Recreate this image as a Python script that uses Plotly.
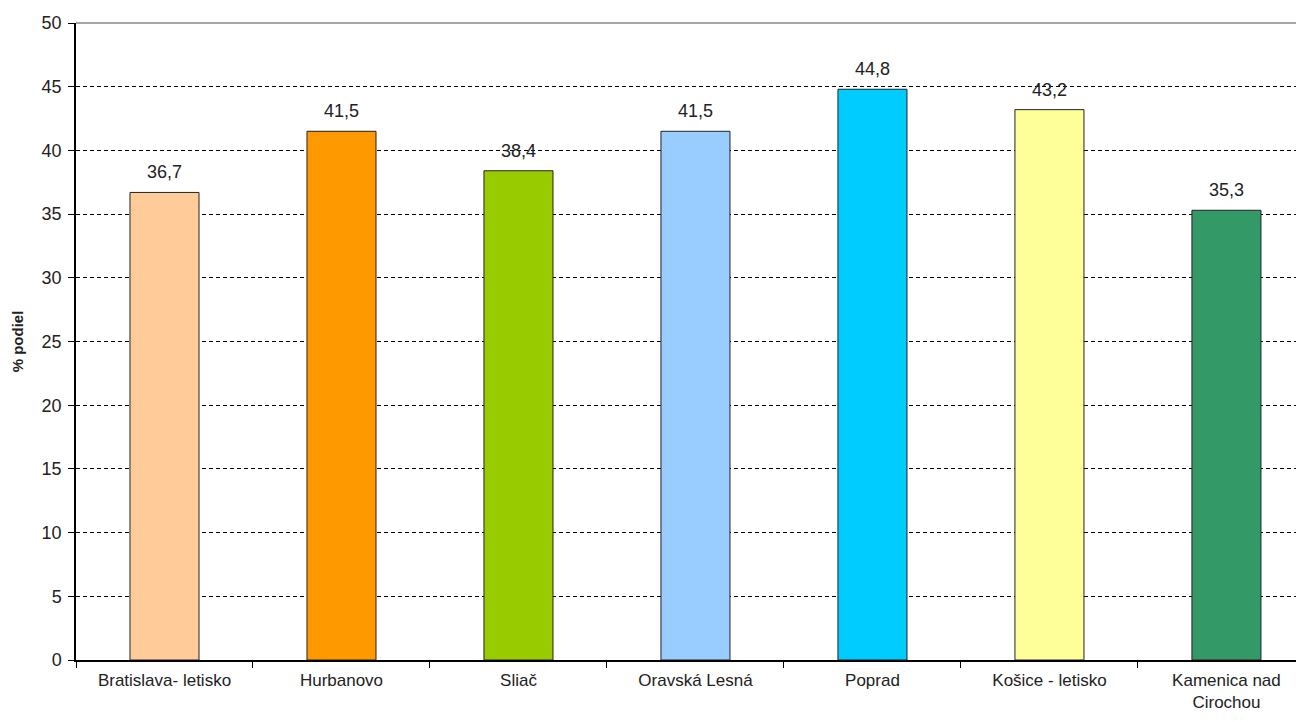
import plotly.graph_objects as go

stations = ["Bratislava- letisko", "Hurbanovo", "Sliač", "Oravská Lesná",
            "Poprad", "Košice - letisko", "Kamenica nad<br>Cirochou"]
podiel = [36.7, 41.5, 38.4, 41.5, 44.8, 43.2, 35.3]
bar_colors = ["#FFCC99", "#FF9900", "#99CC00", "#99CCFF",
              "#00CCFF", "#FFFF99", "#339966"]

FONT = "Liberation Sans, Arial, sans-serif"
TXT = "#222222"

fig = go.Figure(go.Bar(
    x=stations, y=podiel,
    marker=dict(color=bar_colors, line=dict(color=TXT, width=1)),
    width=0.39,
))

# value labels sit a bit higher above the bars than textposition="outside" allows
for name, val in zip(stations, podiel):
    fig.add_annotation(
        x=name, y=val, text=f"{val:.1f}".replace(".", ","),
        showarrow=False, yanchor="bottom", yshift=8,
        font=dict(size=18, color=TXT, family=FONT),
    )

# page body adds 8px, so the figure is sized a bit smaller than the window
fig.update_layout(
    width=1288, height=706,
    margin=dict(l=68, r=0, t=15, b=54),
    paper_bgcolor="white", plot_bgcolor="white",
    font=dict(family=FONT, size=18, color=TXT),
    showlegend=False,
    shapes=[dict(type="line", xref="paper", yref="paper", x0=0, x1=1, y0=1, y1=1,
                 line=dict(color="#888888", width=1.5))],
)
fig.update_xaxes(
    range=[-0.5, 6.393], tickson="boundaries", ticks="outside", ticklen=6,
    tickcolor="black", showline=True, linecolor="black", linewidth=1.5,
    showgrid=False, tickfont=dict(size=17, color=TXT), ticklabelstandoff=4,
    automargin=False,
)
fig.update_yaxes(
    range=[0, 50], dtick=5, ticks="outside", ticklen=6, tickcolor="black",
    showline=True, linecolor="black", linewidth=1.5,
    gridcolor="black", griddash="4px,3px", gridwidth=1, zeroline=False,
    tickfont=dict(size=18, color=TXT), ticklabelstandoff=3,
    title=dict(text="<b>% podiel</b>", font=dict(size=15, color=TXT), standoff=14),
    automargin=False,
)

fig.write_html("out.html")
